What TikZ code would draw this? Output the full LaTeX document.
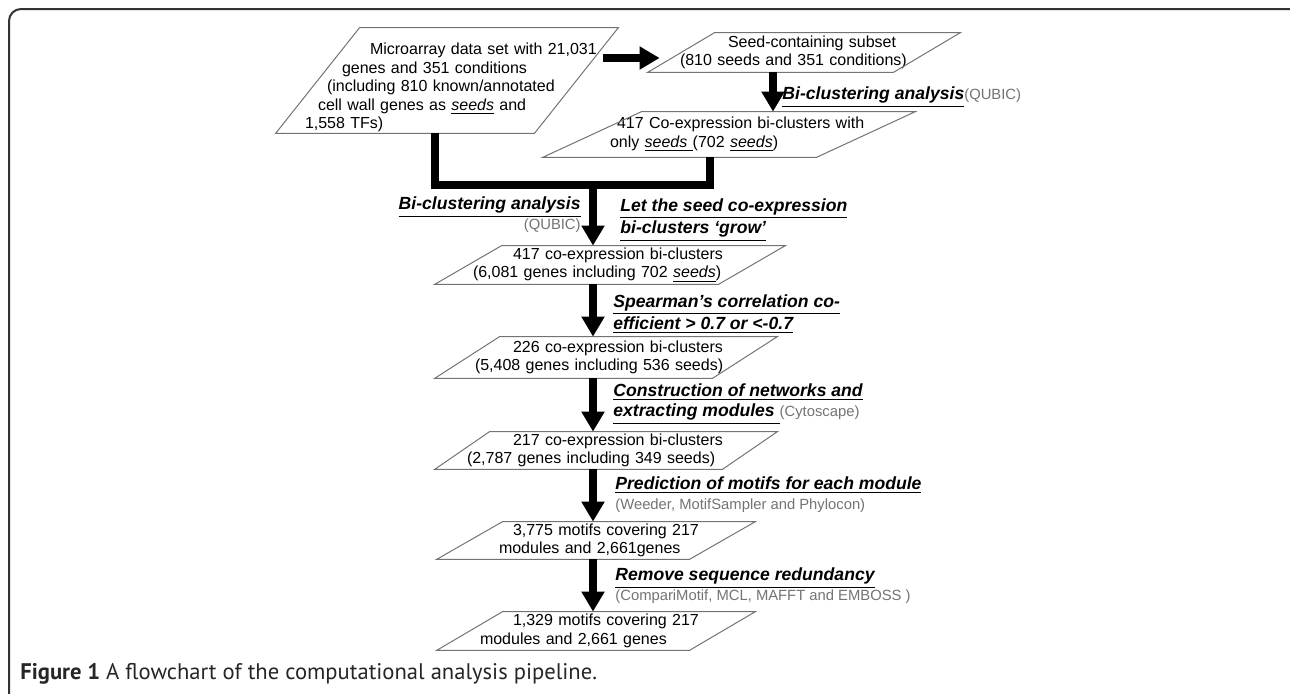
\documentclass[tikz,border=0pt]{standalone}
\usepackage{fontspec}
\setmainfont{Liberation Sans}
\newfontfamily\capfont{PT Sans}
\usetikzlibrary{arrows.meta}
\newcommand\toolfont{\fontsize{7.4}{10}\selectfont\mdseries\upshape\color{black!55}}

\tikzset{
  para/.style={inner sep=0pt, align=left, text=black, font=\fontsize{8}{9.25}\selectfont},
  outline/.style={draw=black!55, line width=0.5pt},
  lab/.style={inner sep=0pt, align=left, font=\fontsize{8.8}{10}\selectfont\bfseries\itshape},
  link/.style={line width=4pt},
  arr/.style={line width=4pt, -{Triangle[width=11pt,length=10pt]}},
  frame/.style={draw=black!80, line width=1pt, rounded corners=6pt}
}

\begin{document}
\begin{tikzpicture}[x=0.5pt, y=-0.5pt]
    \useasboundingbox (0,0) rectangle (1290,693);
    \clip (0,0) rectangle (1290,693);
    \draw[frame] (9,9) rectangle (1320,720);

    % boxes
    \node[para, text width=171pt, minimum height=52.5pt] (data) at (447,80.5) {\rule{0pt}{13pt}\hspace*{47pt}Microarray data set with 21,031\\
        \hspace*{33pt}genes and 351 conditions\\
        \hspace*{25.5pt}(including 810 known/annotated\\
        \hspace*{21pt}cell wall genes as \underline{\textit{seeds}} and\\
        \hspace*{14.5pt}1,558 TFs)};
    \node[para, text width=156pt, minimum height=19.5pt] (seed) at (804,52.5) {\hspace*{40pt}Seed-containing subset\\
        \hspace*{16pt}(810 seeds and 351 conditions)};
    \node[para, text width=186pt, minimum height=22.5pt] (bic) at (729,134.5) {\hspace*{37pt}417 Co-expression bi-clusters with\\
        \hspace*{33.5pt}only \underline{\textit{seeds }}(702 \underline{\textit{seeds}})};
    \node[para, text width=175pt, minimum height=19pt] (grow) at (610,265) {\hspace*{39pt}417 co-expression bi-clusters\\
        \hspace*{19pt}(6,081 genes including 702 \underline{\textit{seeds}})};
    \node[para, text width=171pt, minimum height=20.5pt] (b226) at (606,357.5) {\hspace*{39pt}226 co-expression bi-clusters\\
        \hspace*{20pt}(5,408 genes including 536 seeds)};
    \node[para, text width=171pt, minimum height=18.5pt] (b217) at (606,450.5) {\hspace*{39pt}217 co-expression bi-clusters\\
        \hspace*{16pt}(2,787 genes including 349 seeds)};
    \node[para, text width=159pt, minimum height=18.5pt] (motifs) at (596,540.5) {\hspace*{38pt}3,775 motifs covering 217\\
        \hspace*{31pt}modules and 2,661genes};
    \node[para, text width=159pt, minimum height=19pt] (final) at (596,631) {\hspace*{38pt}1,329 motifs covering 217\\
        \hspace*{21.5pt}modules and 2,661 genes};

    \draw[outline] (data.south west) -- ([xshift=42pt]data.north west) -- (data.north east) -- ([xshift=-42pt]data.south east) -- cycle;
    \draw[outline] (seed.south west) -- ([xshift=33.5pt]seed.north west) -- (seed.north east) -- ([xshift=-33.5pt]seed.south east) -- cycle;
    \draw[outline] (bic.south west) -- ([xshift=49.5pt]bic.north west) -- (bic.north east) -- ([xshift=-49.5pt]bic.south east) -- cycle;
    \draw[outline] (grow.south west) -- ([xshift=33.5pt]grow.north west) -- (grow.north east) -- ([xshift=-33.5pt]grow.south east) -- cycle;
    \draw[outline] (b226.south west) -- ([xshift=32.5pt]b226.north west) -- (b226.north east) -- ([xshift=-32.5pt]b226.south east) -- cycle;
    \draw[outline] (b217.south west) -- ([xshift=27.5pt]b217.north west) -- (b217.north east) -- ([xshift=-27.5pt]b217.south east) -- cycle;
    \draw[outline] (motifs.south west) -- ([xshift=33pt]motifs.north west) -- (motifs.north east) -- ([xshift=-33pt]motifs.south east) -- cycle;
    \draw[outline] (final.south west) -- ([xshift=33pt]final.north west) -- (final.north east) -- ([xshift=-33pt]final.south east) -- cycle;

    % arrows
    \coordinate (join) at (593,185);
    \draw[arr] ([xshift=-7.5pt, yshift=11.25pt]data.east) -- ([xshift=6pt, yshift=-2.75pt]seed.west);
    \draw[arr] ([xshift=-15.5pt]seed.south) -- ([xshift=22pt]bic.north);
    \draw[link] ([xshift=-6pt]data.south) |- (join) -| ([xshift=-9.5pt]bic.south);
    \draw[arr] (join) -- (grow.north -| join);
    \draw[arr] (grow.south -| join) -- (b226.north -| join);
    \draw[arr] (b226.south -| join) -- (b217.north -| join);
    \draw[arr] (b217.south -| join) -- (motifs.north -| join);
    \draw[arr] (motifs.south -| join) -- (final.north -| join);

    % step labels
    \node[lab, anchor=west] (biclab) at (782,97) {\underline{Bi-clustering analysis}{\toolfont(QUBIC)}};
    \node[lab, anchor=east, align=right] (mainlab) at (581,215) {\underline{Bi-clustering analysis}\\{\toolfont(QUBIC)}};
    \node[lab, anchor=west] (growlab) at (620,220) {\underline{Let the seed co-expression}\\\underline{bi-clusters ‘grow’}};
    \node[lab, anchor=west] (spearlab) at (613,314) {\underline{Spearman’s correlation co-}\\\underline{efficient > 0.7 or <-0.7}};
    \node[lab, anchor=west] (netlab) at (613,404) {\underline{Construction of networks and}\\\underline{extracting modules }{\toolfont(Cytoscape)}};
    \node[lab, anchor=west] (predlab) at (615,495) {\underline{Prediction of motifs for each module}\\{\toolfont(Weeder, MotifSampler and Phylocon)}};
    \node[lab, anchor=west] (redlab) at (615,586) {\underline{Remove sequence redundancy}\\{\toolfont(CompariMotif, MCL, MAFFT and EMBOSS )}};

    % caption
    \node[anchor=west, inner sep=0pt, text=black!85, font=\capfont\fontsize{11.3}{13}\selectfont] (caption) at (20,674) {\textbf{Figure 1} A flowchart of the computational analysis pipeline.};
\end{tikzpicture}
\end{document}
